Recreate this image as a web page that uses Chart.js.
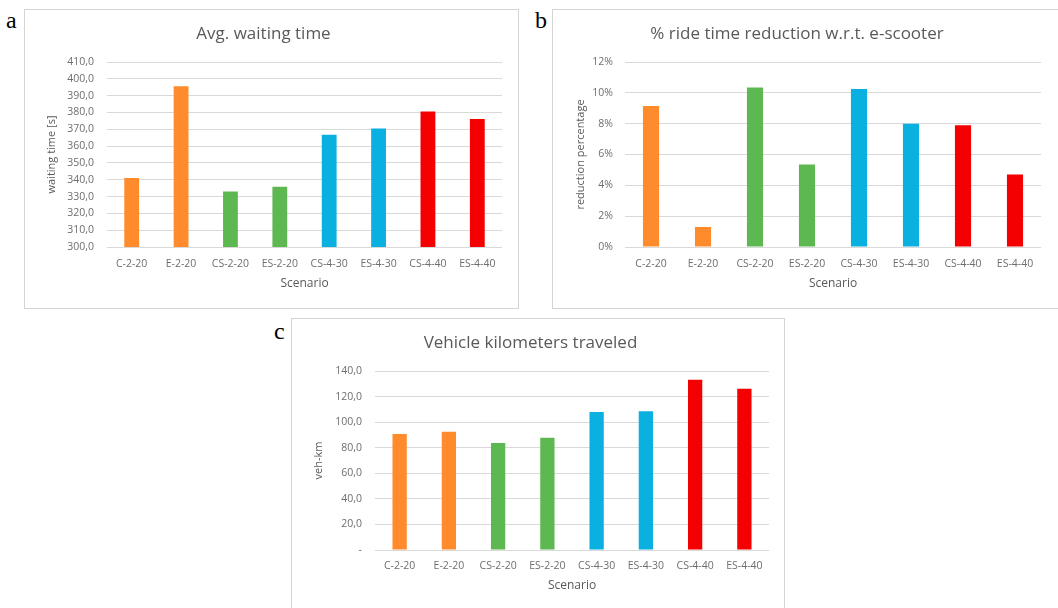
<!DOCTYPE html>
<html>
<head>
<meta charset="utf-8">
<script src="https://cdn.jsdelivr.net/npm/chart.js"></script>
<style>
  html, body { margin: 0; padding: 0; background: #fff; }
  body { width: 1058px; height: 608px; position: relative; overflow: hidden; }
  .box { position: absolute; border: 1px solid #d4d4d4; background: #fff; }
  .box canvas { display: block; }
  .letter { position: absolute; font-family: "Liberation Serif", serif; font-size: 24px; color: #000; line-height: 1; }
</style>
</head>
<body>
<div class="letter" style="left:6px; top:8px;">a</div>
<div class="letter" style="left:535px; top:8px;">b</div>
<div class="letter" style="left:274px; top:319px;">c</div>

<div class="box" style="left:24px; top:9px;"><canvas id="chartA" width="493" height="298"></canvas></div>
<div class="box" style="left:552px; top:9px;"><canvas id="chartB" width="506" height="298"></canvas></div>
<div class="box" style="left:291px; top:318px;"><canvas id="chartC" width="492" height="300"></canvas></div>

<script>
// scenarios on the x axis
const scenarios = ["C-2-20", "E-2-20", "CS-2-20", "ES-2-20", "CS-4-30", "ES-4-30", "CS-4-40", "ES-4-40"]

// a: avg waiting time [s]
const waitingTime = [341.0, 395.6, 333.0, 335.8, 366.8, 370.4, 380.6, 376.1]
// b: % ride time reduction w.r.t. e-scooter
const rideTimeReduction = [9.15, 1.3, 10.35, 5.35, 10.25, 8.0, 7.9, 4.7]
// c: vehicle km traveled
const vehicleKm = [90.7, 92.5, 83.6, 87.8, 108.0, 108.5, 133.2, 126.1]

const barColors = ["#ff8b2c", "#ff8b2c", "#5eb851", "#5eb851", "#0ab0e0", "#0ab0e0", "#f40000", "#f40000"]

const gray = "#595959"
const tickGray = "#6e6e6e"
const gridGray = "#d9d9d9"
Chart.defaults.font.family = "'Open Sans', 'Noto Sans', sans-serif"

function comma1(v) {
  return v.toFixed(1).replace(".", ",")
}

function makeChart(id, values, cfg) {
  const ctx = document.getElementById(id).getContext("2d")
  return new Chart(ctx, {
    type: "bar",
    data: {
      labels: scenarios,
      datasets: [{
        data: values,
        backgroundColor: barColors,
        borderWidth: 0,
        barPercentage: cfg.barPct,
        categoryPercentage: 1,
      }],
    },
    options: {
      responsive: false,
      animation: false,
      layout: { padding: { left: 0, right: cfg.right, top: 0, bottom: 0 } },
      plugins: {
        legend: { display: false },
        tooltip: { enabled: false },
        title: {
          display: true,
          text: cfg.title,
          color: gray,
          font: { size: 17, weight: "normal" },
          padding: { top: 14, bottom: cfg.titleGap },
        },
      },
      scales: {
        x: {
          grid: { display: false, drawTicks: false },
          border: { display: false },
          ticks: { color: tickGray, font: { size: 10.5 }, padding: cfg.xTickPad, maxRotation: 0, autoSkip: false },
          title: { display: true, text: "Scenario", color: gray, font: { size: 12 }, padding: { top: 0, bottom: cfg.xTitlePad } },
          afterFit: (scale) => { scale.height = cfg.xHeight },
        },
        y: {
          min: cfg.min,
          max: cfg.max,
          grid: { color: gridGray, drawTicks: false },
          border: { display: false },
          ticks: { stepSize: cfg.step, color: tickGray, font: { size: 10.5 }, padding: cfg.yTickPad, callback: cfg.fmt },
          title: { display: true, text: cfg.yTitle, color: gray, font: { size: 11 }, padding: { top: cfg.yTitlePad, bottom: 0 } },
          afterFit: (scale) => { scale.width = cfg.yWidth },
        },
      },
    },
  })
}

makeChart("chartA", waitingTime, {
  title: "Avg. waiting time",
  yTitle: "waiting time [s]",
  min: 300, max: 410, step: 10,
  fmt: (v) => comma1(v),
  barPct: 0.3, right: 16, titleGap: 17.6,
  xHeight: 61, xTickPad: 11, xTitlePad: 17,
  yWidth: 82, yTickPad: 13, yTitlePad: 20,
})

makeChart("chartB", rideTimeReduction, {
  title: "% ride time reduction w.r.t. e-scooter",
  yTitle: "reduction percentage",
  min: 0, max: 12, step: 2,
  fmt: (v) => v + "%",
  barPct: 0.31, right: 18, titleGap: 17.6,
  xHeight: 61, xTickPad: 11, xTitlePad: 17,
  yWidth: 72, yTickPad: 12, yTitlePad: 21,
})

makeChart("chartC", vehicleKm, {
  title: "Vehicle kilometers traveled",
  yTitle: "veh-km",
  min: 0, max: 140, step: 20,
  fmt: (v) => (v === 0 ? "-" : comma1(v)),
  barPct: 0.29, right: 15, titleGap: 17.6,
  xHeight: 69, xTickPad: 10, xTitlePad: 26,
  yWidth: 83, yTickPad: 13, yTitlePad: 20,
})
</script>
</body>
</html>
